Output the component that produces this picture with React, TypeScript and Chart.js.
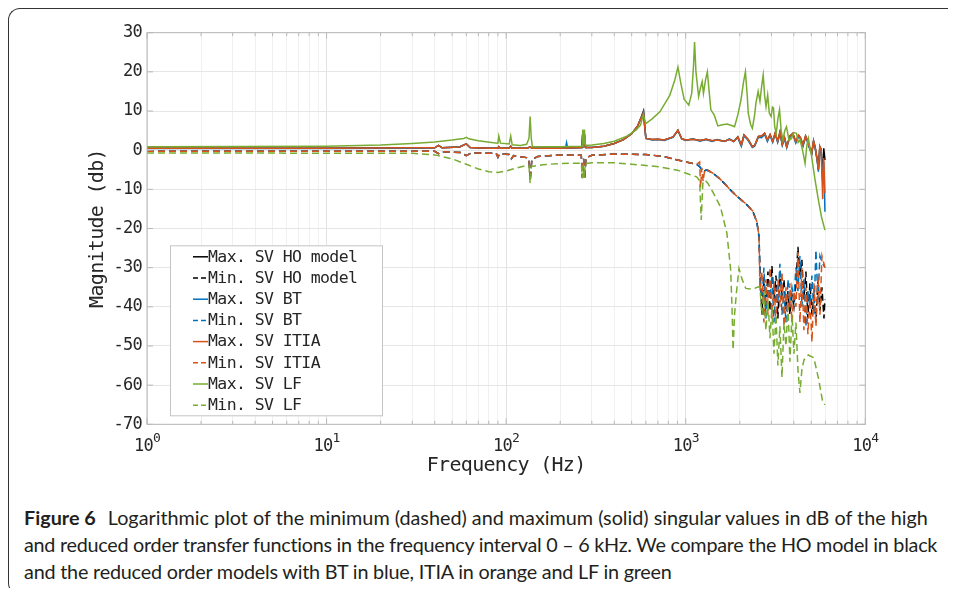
import React, { useEffect, useRef } from 'react';
import { Chart, registerables } from 'chart.js';

Chart.register(...registerables);

type Pt = [number, number];

// Axis setup (Hz decades, dB range)
const xDecades = [1, 10, 100, 1000, 10000];
const yMin = -70;
const yMax = 30;
const yStep = 10;

const legendLabels = [
  'Max. SV HO model',
  'Min. SV HO model',
  'Max. SV BT',
  'Min. SV BT',
  'Max. SV ITIA',
  'Min. SV ITIA',
  'Max. SV LF',
  'Min. SV LF',
];
const seriesColors = ['#000000', '#000000', '#0072BD', '#0072BD', '#D95319', '#D95319', '#77AC30', '#77AC30'];
const seriesDashed = [false, true, false, true, false, true, false, true];

// Max singular values [Hz, dB]
const hoMax: Pt[] = [
  [1, 0.5], [10, 0.5], [30, 0.6], [40, 0.6], [42, 1.2], [44, 0.6], [55, 0.8], [60, 1.6], [63, 0.7], [80, 0.5],
  [90, 0.5], [91, 0.9], [93, 0.5], [104, 0.5], [106, 1.0], [108, 0.5], [130, 0.5], [136, 0.8], [140, 0.5], [200, 0.5],
  [264, 0.7], [267, 4.4], [270, 0.7], [273, 4.0], [277, 0.7], [300, 0.7], [350, 1.0], [400, 1.7], [450, 2.7], [500, 4.2],
  [540, 6.2], [565, 8.4], [582, 10.0], [590, 6.5], [600, 3.0], [650, 2.7], [700, 2.8], [760, 2.6], [850, 3.4], [905, 5.1],
  [950, 2.9], [1000, 2.6], [1100, 2.8], [1200, 2.5], [1300, 2.8], [1400, 2.4], [1500, 2.6], [1650, 2.3], [1750, 2.8], [1850, 2.2],
  [1950, 3.4], [2040, 1.3], [2110, 3.9], [2220, 2.8], [2350, 0.9], [2420, 1.2], [2540, 3.5], [2645, 3.6], [2750, 4.3], [2850, 2.6],
  [2950, 4.0], [3050, 2.3], [3150, 4.4], [3250, 2.2], [3350, 4.7], [3450, 1.5], [3550, 3.2], [3650, 0.9], [3800, 3.6], [3950, 4.3],
  [4100, 2.1], [4250, 3.8], [4350, 3.2], [4500, 1.3], [4650, 3.6], [4750, 2.6], [4900, 0.6], [5030, -0.8], [5150, 2.4], [5250, 0.9],
  [5400, -2.5], [5480, -5.0], [5580, 0.9], [5680, 0.2], [5790, -8.0], [5870, 0.5], [5960, -2.5],
];

const btMax: Pt[] = [
  [1, 0.4], [10, 0.4], [30, 0.5], [40, 0.6], [42, 1.2], [44, 0.6], [55, 0.8], [60, 1.6], [63, 0.7], [80, 0.5],
  [90, 0.5], [91, 0.9], [93, 0.5], [104, 0.5], [106, 1.0], [108, 0.5], [130, 0.5], [136, 0.8], [140, 0.5], [200, 0.5],
  [214, 0.5], [217, 1.9], [220, 0.5], [264, 0.7], [267, 4.4], [270, 0.7], [273, 4.0], [277, 0.7], [300, 0.7], [350, 1.0],
  [400, 1.7], [450, 2.7], [500, 4.2], [540, 6.2], [565, 8.3], [582, 9.8], [590, 6.4], [600, 3.0], [650, 2.6], [700, 2.7],
  [760, 2.5], [850, 3.3], [905, 5.0], [950, 2.9], [1000, 2.5], [1100, 2.9], [1200, 2.3], [1300, 2.7], [1400, 2.2], [1500, 2.7],
  [1650, 2.2], [1750, 2.9], [1850, 2.3], [1950, 3.2], [2040, 1.0], [2110, 3.6], [2220, 2.6], [2350, 0.7], [2420, 1.0], [2540, 3.3],
  [2645, 3.2], [2750, 4.0], [2850, 2.2], [2950, 3.8], [3050, 2.0], [3150, 4.2], [3250, 2.0], [3350, 4.4], [3450, 1.2], [3550, 3.0],
  [3650, 0.6], [3800, 3.3], [3950, 4.0], [4100, 1.8], [4250, 3.5], [4350, 3.0], [4500, 1.0], [4650, 3.3], [4750, 2.3], [4900, 0.3],
  [5030, -1.0], [5150, 2.2], [5250, 0.6], [5400, -2.8], [5480, -5.5], [5580, 0.6], [5680, -1.0], [5790, -7.0], [5870, -3.0], [5960, -15.7],
];

const itiaMax: Pt[] = [
  [1, 0.5], [10, 0.5], [30, 0.6], [40, 0.6], [42, 1.2], [44, 0.6], [55, 0.8], [60, 1.6], [63, 0.7], [80, 0.5],
  [90, 0.5], [91, 0.9], [93, 0.5], [104, 0.5], [106, 1.0], [108, 0.5], [130, 0.5], [136, 0.8], [140, 0.5], [200, 0.5],
  [264, 0.7], [267, 4.4], [270, 0.7], [273, 4.0], [277, 0.7], [300, 0.7], [350, 1.0], [400, 1.7], [450, 2.7], [500, 4.2],
  [540, 6.2], [565, 8.3], [582, 9.6], [590, 6.4], [600, 3.0], [650, 2.7], [700, 2.8], [760, 2.6], [850, 3.4], [905, 5.1],
  [950, 2.9], [1000, 2.6], [1100, 2.8], [1200, 2.5], [1300, 2.8], [1400, 2.4], [1500, 2.6], [1650, 2.3], [1750, 2.8], [1850, 2.2],
  [1950, 3.4], [2040, 1.3], [2110, 3.9], [2220, 2.8], [2350, 0.9], [2420, 1.2], [2540, 3.5], [2645, 3.6], [2750, 4.3], [2850, 2.6],
  [2950, 4.0], [3050, 2.3], [3150, 4.4], [3250, 2.2], [3350, 4.7], [3450, 1.5], [3550, 3.2], [3650, 0.9], [3800, 3.6], [3950, 4.3],
  [4100, 2.1], [4250, 3.8], [4350, 3.2], [4500, 1.3], [4650, 3.6], [4750, 2.6], [4900, 0.6], [5030, -0.8], [5150, 2.4], [5250, 0.9],
  [5400, -2.5], [5480, -5.0], [5580, 0.9], [5680, 0.2], [5790, -12.5], [5870, -2.0], [5960, -11.0],
];

const lfMax: Pt[] = [
  [1, 0.9], [10, 1.0], [20, 1.3], [30, 1.7], [40, 2.1], [50, 2.6], [58, 3.0], [60, 3.3], [62, 2.9], [70, 2.4],
  [85, 1.9], [90, 1.8], [91, 3.6], [93, 1.8], [104, 1.6], [106, 3.6], [108, 1.4], [120, 1.2], [130, 1.5], [134, 3.0],
  [136, 8.6], [138, 3.0], [140, 0.9], [200, 0.9], [265, 1.0], [267, 5.3], [270, 1.5], [273, 5.3], [276, 1.2], [300, 1.3],
  [350, 1.7], [400, 2.3], [470, 3.6], [530, 5.2], [560, 6.4], [580, 9.0], [600, 6.8], [650, 8.0], [718, 9.8], [815, 14.0],
  [870, 18.0], [905, 21.2], [940, 17.0], [980, 13.0], [1040, 11.5], [1080, 14.5], [1105, 21.5], [1120, 27.6], [1140, 20.0], [1180, 13.7],
  [1210, 16.0], [1235, 17.5], [1255, 14.5], [1290, 18.0], [1320, 20.0], [1350, 15.0], [1380, 10.3], [1440, 9.0], [1510, 6.2], [1600, 6.5],
  [1700, 6.7], [1800, 6.3], [1870, 6.0], [1950, 9.0], [2030, 12.8], [2100, 17.5], [2150, 20.0], [2200, 14.0], [2230, 9.4], [2300, 6.5],
  [2350, 5.6], [2420, 9.0], [2460, 12.0], [2530, 15.0], [2590, 12.5], [2650, 16.5], [2700, 19.2], [2750, 14.0], [2800, 11.1], [2860, 14.1],
  [2920, 9.5], [2990, 8.6], [3040, 11.0], [3080, 10.8], [3130, 6.0], [3190, 4.3], [3260, 8.0], [3330, 10.3], [3400, 5.0], [3480, 2.6],
  [3560, 5.0], [3640, 6.0], [3760, 2.5], [3880, 3.0], [4000, 4.5], [4140, 4.3], [4230, 2.0], [4330, 2.6], [4450, 0.5], [4620, -3.4],
  [4720, 1.0], [4820, 3.0], [4920, 0.5], [5030, -1.7], [5150, -5.0], [5250, -7.6], [5480, -12.7], [5700, -17.0], [5960, -20.4],
];

// Min singular values, smooth part [Hz, dB]
const hoMinSmooth: Pt[] = [
  [1, -0.3], [40, -0.3], [42, -0.9], [44, -0.4], [56, -0.6], [60, -1.4], [64, -0.7], [88, -0.8], [90, -1.8], [92, -0.9],
  [104, -1.1], [107, -2.2], [110, -1.4], [130, -1.9], [134, -2.3], [136, -7.8], [139, -2.4], [150, -1.6], [200, -1.2], [262, -1.3],
  [266, -7.0], [270, -2.2], [274, -7.3], [278, -2.0], [300, -1.3], [400, -1.0], [600, -1.1], [750, -1.6], [900, -2.5], [1050, -3.2],
  [1150, -3.6], [1200, -4.3], [1250, -5.5], [1300, -5.1], [1340, -5.2], [1420, -5.9], [1540, -7.2], [1650, -8.6], [1780, -10.2], [1900, -11.5],
  [2040, -12.7], [2200, -14.0], [2360, -15.5], [2490, -18.3], [2560, -22.0],
];
const btMinSmooth: Pt[] = [
  [1, -0.3], [40, -0.3], [42, -0.9], [44, -0.4], [56, -0.6], [60, -1.4], [64, -0.7], [88, -0.8], [90, -1.8], [92, -0.9],
  [104, -1.1], [107, -2.2], [110, -1.4], [130, -1.9], [134, -2.3], [136, -7.8], [139, -2.4], [150, -1.6], [200, -1.2], [262, -1.3],
  [266, -7.0], [270, -2.2], [274, -7.3], [278, -2.0], [300, -1.3], [400, -1.0], [600, -1.1], [750, -1.6], [900, -2.5], [1050, -3.2],
  [1150, -3.6], [1200, -4.3], [1250, -5.4], [1300, -5.1], [1340, -5.3], [1420, -5.9], [1540, -7.3], [1650, -8.6], [1780, -10.3], [1900, -11.5],
  [2040, -12.8], [2200, -14.1], [2360, -15.6], [2490, -18.4], [2560, -22.5],
];
const itiaMinSmooth: Pt[] = [
  [1, -0.3], [40, -0.3], [42, -0.9], [44, -0.4], [56, -0.6], [60, -1.4], [64, -0.7], [88, -0.8], [90, -1.8], [92, -0.9],
  [104, -1.1], [107, -2.2], [110, -1.4], [130, -1.9], [134, -2.3], [136, -7.8], [139, -2.4], [150, -1.6], [200, -1.2], [262, -1.3],
  [266, -7.0], [270, -2.2], [274, -7.3], [278, -2.0], [300, -1.3], [400, -1.0], [600, -1.1], [750, -1.6], [900, -2.5], [1050, -3.2],
  [1150, -3.6], [1195, -3.0], [1210, -9.5], [1230, -4.5], [1250, -8.0], [1275, -5.0], [1300, -5.1], [1340, -5.2], [1420, -5.9], [1540, -7.2],
  [1650, -8.6], [1780, -10.2], [1900, -11.5], [2040, -12.7], [2200, -14.0], [2360, -15.5], [2490, -18.3], [2560, -22.0],
];
const lfMinSmooth: Pt[] = [
  [1, -0.7], [30, -0.8], [40, -1.2], [50, -2.2], [60, -3.6], [70, -4.8], [80, -5.5], [90, -5.7], [100, -5.3], [115, -4.5],
  [130, -3.9], [134, -4.0], [136, -8.5], [138, -4.2], [160, -3.7], [200, -3.4], [262, -3.3], [266, -7.2], [269, -3.6], [272, -7.0],
  [276, -3.4], [300, -3.2], [400, -3.2], [500, -3.6], [600, -3.9], [720, -4.3], [900, -5.1], [1050, -6.2], [1150, -6.8], [1195, -7.8],
  [1220, -17.8], [1245, -8.5], [1280, -7.6], [1330, -8.5], [1420, -10.8], [1560, -14.4], [1695, -21.2], [1780, -30.6], [1810, -40.0], [1835, -51.0],
  [1870, -42.0], [1915, -36.5], [1980, -30.2], [2060, -33.0], [2160, -35.3], [2350, -35.5], [2540, -34.9],
];

// Min singular values, high-frequency part [Hz, dB]
const hoMinNoise: Pt[] = [
  [2590, -30], [2655, -42], [2725, -33], [2795, -40], [2870, -31], [2945, -41], [3020, -29.5], [3100, -38], [3180, -32], [3260, -43],
  [3345, -31], [3435, -37], [3525, -33], [3615, -41], [3710, -36], [3805, -42], [3905, -37], [4005, -40], [4110, -34], [4215, -24.7],
  [4325, -32], [4435, -28], [4550, -38], [4670, -31], [4790, -43], [4915, -34], [5045, -42], [5175, -36], [5310, -44], [5445, -33],
  [5590, -41], [5735, -35], [5885, -43], [5960, -38],
];
const btMinNoise: Pt[] = [
  [2590, -33], [2655, -39], [2725, -30], [2795, -43], [2870, -34], [2945, -38], [3020, -32], [3100, -44], [3180, -35], [3260, -39],
  [3345, -29], [3435, -42], [3525, -36], [3615, -44], [3710, -33], [3805, -40], [3905, -35], [4005, -38], [4110, -30], [4215, -36],
  [4325, -27], [4435, -40], [4550, -33], [4670, -45], [4790, -36], [4915, -40], [5045, -32], [5175, -42], [5310, -25.5], [5445, -38],
  [5590, -27], [5735, -28.5], [5885, -29.5], [5960, -30],
];
const itiaMinNoise: Pt[] = [
  [2590, -36], [2655, -31], [2725, -44], [2795, -33], [2870, -42], [2945, -30], [3020, -43], [3100, -34], [3180, -44], [3260, -33],
  [3345, -40], [3435, -31], [3525, -45], [3615, -35], [3710, -43], [3805, -34], [3905, -44], [4005, -36], [4110, -40], [4215, -26],
  [4325, -44], [4435, -30], [4550, -46], [4670, -35], [4790, -47], [4915, -38], [5045, -49], [5175, -34], [5310, -45], [5445, -32],
  [5590, -42], [5735, -27], [5885, -29], [5960, -30],
];
const lfMinNoise: Pt[] = [
  [2590, -35], [2655, -42], [2725, -36], [2795, -46], [2870, -38], [2945, -48], [3020, -40], [3100, -52], [3180, -42], [3260, -55],
  [3345, -45], [3435, -58], [3525, -44], [3615, -50], [3710, -40], [3805, -54], [3905, -42], [4005, -52], [4110, -44], [4215, -56],
  [4325, -62], [4435, -56], [4560, -53.5], [4810, -52.3], [5170, -53], [5510, -58.7], [5800, -64.5], [5960, -65],
];

const seriesPoints: Pt[][] = [
  hoMax,
  [...hoMinSmooth, ...hoMinNoise],
  btMax,
  [...btMinSmooth, ...btMinNoise],
  itiaMax,
  [...itiaMinSmooth, ...itiaMinNoise],
  lfMax,
  [...lfMinSmooth, ...lfMinNoise],
];

const captionLines = [
  'Logarithmic plot of the minimum (dashed) and maximum (solid) singular values in dB of the high',
  'and reduced order transfer functions in the frequency interval 0 – 6 kHz. We compare the HO model in black',
  'and the reduced order models with BT in blue, ITIA in orange and LF in green',
];

const MONO = '"DejaVu Sans Mono", monospace';
const TEXT = '#262626';
const SPACING = '-0.7px';

const isPow10 = (v: number) => {
  const l = Math.log10(v);
  return Math.abs(l - Math.round(l)) < 1e-9;
};

const axesPlugin = {
  id: 'matlabAxes',
  beforeDraw(chart: any) {
    chart.ctx.letterSpacing = SPACING;
  },
  afterDatasetsDraw(chart: any) {
    const { ctx, chartArea: a, scales } = chart;
    const xs = scales.x;
    const ys = scales.y;
    ctx.save();
    ctx.strokeStyle = '#b8b8b8';
    ctx.lineWidth = 1;
    ctx.setLineDash([]);
    ctx.strokeRect(a.left, a.top, a.right - a.left, a.bottom - a.top);
    ctx.beginPath();
    xs.ticks.forEach((t: any) => {
      const px = xs.getPixelForValue(t.value);
      const len = isPow10(t.value) ? 6 : 3.5;
      ctx.moveTo(px, a.bottom);
      ctx.lineTo(px, a.bottom - len);
      ctx.moveTo(px, a.top);
      ctx.lineTo(px, a.top + len);
    });
    ys.ticks.forEach((t: any) => {
      const py = ys.getPixelForValue(t.value);
      ctx.moveTo(a.left, py);
      ctx.lineTo(a.left + 6, py);
      ctx.moveTo(a.right, py);
      ctx.lineTo(a.right - 6, py);
    });
    ctx.stroke();

    // x tick labels: 10^n
    ctx.fillStyle = TEXT;
    ctx.textBaseline = 'alphabetic';
    ctx.textAlign = 'left';
    ctx.letterSpacing = SPACING;
    xDecades.forEach((v) => {
      const px = xs.getPixelForValue(v);
      const exp = String(Math.round(Math.log10(v)));
      ctx.font = `17px ${MONO}`;
      const w10 = ctx.measureText('10').width;
      ctx.font = `13px ${MONO}`;
      const we = ctx.measureText(exp).width;
      const x0 = px - (w10 + we) / 2;
      ctx.font = `17px ${MONO}`;
      ctx.fillText('10', x0, a.bottom + 27);
      ctx.font = `13px ${MONO}`;
      ctx.fillText(exp, x0 + w10, a.bottom + 17.5);
    });
    ctx.restore();
  },
  afterDraw(chart: any) {
    const { ctx, chartArea: a } = chart;
    const L = a.left + 23;
    const W = 212;
    const H = 170;
    const B = a.bottom - 9;
    const T = B - H;
    ctx.save();
    ctx.fillStyle = '#ffffff';
    ctx.fillRect(L, T, W, H);
    ctx.strokeStyle = '#c4c4c4';
    ctx.lineWidth = 1;
    ctx.setLineDash([]);
    ctx.strokeRect(L + 0.5, T + 0.5, W, H);
    ctx.font = `16.5px ${MONO}`;
    ctx.letterSpacing = '-0.6px';
    ctx.textBaseline = 'middle';
    ctx.textAlign = 'left';
    chart.data.datasets.forEach((ds: any, i: number) => {
      const y = T + 11.5 + i * 21.2;
      ctx.strokeStyle = ds.borderColor;
      ctx.lineWidth = 1.5;
      ctx.setLineDash(ds.borderDash && ds.borderDash.length ? [5, 3] : []);
      ctx.beginPath();
      ctx.moveTo(L + 23, y);
      ctx.lineTo(L + 38, y);
      ctx.stroke();
      ctx.setLineDash([]);
      ctx.fillStyle = TEXT;
      ctx.fillText(ds.label, L + 38, y + 0.5);
    });
    ctx.restore();
  },
};

export default function App() {
  const canvasRef = useRef<HTMLCanvasElement | null>(null);

  useEffect(() => {
    const canvas = canvasRef.current;
    if (!canvas) return;
    const n = seriesPoints.length;
    const datasets = seriesPoints.map((pts, i) => ({
      label: legendLabels[i],
      data: pts.map(([x, y]) => ({ x, y })),
      borderColor: seriesColors[i],
      backgroundColor: seriesColors[i],
      borderWidth: 1.5,
      borderDash: seriesDashed[i] ? [7, 4] : [],
      pointRadius: 0,
      pointHoverRadius: 0,
      fill: false,
      tension: 0,
      order: n - i,
    }));

    const tickValues: number[] = [];
    for (let d = 0; d < xDecades.length - 1; d++) {
      for (let k = 1; k <= 9; k++) tickValues.push(k * xDecades[d]);
    }
    tickValues.push(xDecades[xDecades.length - 1]);

    const chart = new Chart(canvas, {
      type: 'line',
      data: { datasets } as any,
      options: {
        animation: false,
        responsive: false,
        events: [],
        layout: { padding: { left: 0, top: 24.7, right: 90.7, bottom: 0 } },
        plugins: {
          legend: { display: false },
          tooltip: { enabled: false },
        },
        scales: {
          x: {
            type: 'logarithmic',
            min: xDecades[0],
            max: xDecades[xDecades.length - 1],
            afterBuildTicks: (scale: any) => {
              scale.ticks = tickValues.map((v) => ({ value: v }));
            },
            afterFit: (scale: any) => {
              scale.height = 63.7;
            },
            ticks: { display: false, autoSkip: false },
            grid: {
              drawTicks: false,
              color: (c: any) => (c.tick && isPow10(c.tick.value) ? '#e2e2e2' : '#f0f0f0'),
              lineWidth: 1,
            },
            border: { display: false },
            title: {
              display: true,
              text: 'Frequency (Hz)',
              color: TEXT,
              font: { family: MONO, size: 20, weight: 'normal' },
              padding: { top: 0, bottom: 10 },
            },
          },
          y: {
            type: 'linear',
            min: yMin,
            max: yMax,
            afterFit: (scale: any) => {
              scale.width = 139;
            },
            ticks: {
              stepSize: yStep,
              color: TEXT,
              padding: 5,
              font: { family: MONO, size: 17 },
            },
            grid: { drawTicks: false, color: '#e6e6e6', lineWidth: 1 },
            border: { display: false },
            title: {
              display: true,
              text: 'Magnitude (db)',
              color: TEXT,
              font: { family: MONO, size: 20, weight: 'normal' },
              padding: { top: 78, bottom: 0 },
            },
          },
        },
      } as any,
      plugins: [axesPlugin],
    });
    return () => chart.destroy();
  }, []);

  const lineStyle = (spacing: number): React.CSSProperties => ({
    whiteSpace: 'nowrap',
    letterSpacing: `${spacing}px`,
    height: 27,
  });

  return (
    <div style={{ position: 'relative', width: 940, height: 580 }}>
      <div
        style={{
          position: 'absolute',
          left: 0,
          top: 0,
          width: 948,
          height: 587,
          boxSizing: 'border-box',
          borderTop: '1.6px solid #333',
          borderLeft: '1.8px solid #333',
          borderBottom: '1.6px solid #333',
          borderTopLeftRadius: 12,
          borderBottomLeftRadius: 12,
        }}
      />
      <canvas
        ref={canvasRef}
        width={948}
        height={480}
        style={{ position: 'absolute', left: 0, top: 0, width: 948, height: 480 }}
      />
      <div
        style={{
          position: 'absolute',
          left: 16,
          top: 496,
          width: 930,
          fontFamily: 'Lato, "Open Sans", sans-serif',
          fontSize: 19.8,
          lineHeight: '27px',
          color: '#231f20',
        }}
      >
        <div style={lineStyle(0)}>
          <b style={{ marginRight: 12 }}>Figure 6</b>
          {captionLines[0]}
        </div>
        <div style={lineStyle(-0.26)}>{captionLines[1]}</div>
        <div style={lineStyle(-0.2)}>{captionLines[2]}</div>
      </div>
    </div>
  );
}
